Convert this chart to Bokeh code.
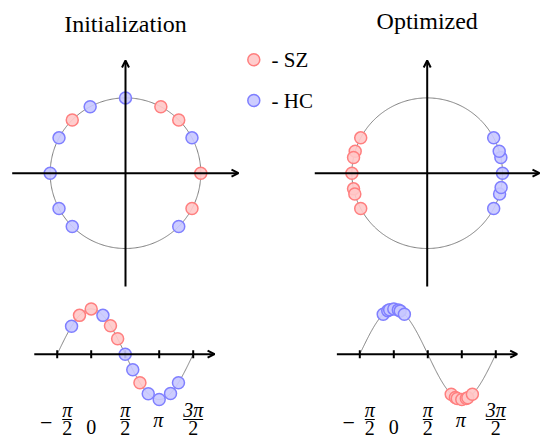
import numpy as np
from bokeh.plotting import figure
from bokeh.layouts import column, row
from bokeh.models import Range1d, Arrow, OpenHead, Spacer
from bokeh.core.properties import value
from bokeh.embed import file_html
from bokeh.resources import INLINE

# ---------------- data (angles / phases in degrees) ----------------
init_sz_circle_deg = [0, 45, 62, 135, 332]
init_hc_circle_deg = [28, 90, 118, 152, 180, 208, 225, 315]
init_sz_wave_deg = [-31, 0, 51, 70, 129]
init_hc_wave_deg = [-52, 31, 90, 110, 151, 180, 210, 231]
opt_sz_deg = [152, 163, 168, 180, 192, 196, 208]
opt_hc_deg = [-28, -16, -11, 0, 12, 17, 28]
tick_values = [-np.pi / 2, 0, np.pi / 2, np.pi, 3 * np.pi / 2]
titles = ["Initialization", "Optimized"]
legend_labels = ["- SZ", "- HC"]

SZ_FILL, SZ_LINE = "#ffc8c8", "#ff7f7f"
HC_FILL, HC_LINE = "#c8c8ff", "#7f7fff"
SERIF = value("Liberation Serif")

# ---------------- layout constants (pixels) ----------------
R_PX = 75.3              # circle radius
PX_X = 34 / (np.pi / 2)  # wave: pixels per radian
PX_Y = 45.3              # wave: pixels per unit amplitude
TOP_H = 291
BOT_H = 147
LEFT_W = 240
MID_W = 74
RIGHT_W = 226
CY = 172.7               # circle centre from top
SHIFT = 7                # text baseline correction


def base_fig(w, h, xr, yr):
    p = figure(width=w, height=h, x_range=Range1d(*xr), y_range=Range1d(*yr),
               output_backend="svg", toolbar_location=None, min_border=0,
               x_axis_location=None, y_axis_location=None, outline_line_color=None,
               background_fill_color="white", border_fill_color="white")
    p.grid.visible = False
    return p


def marks(p, x, y, fill, line):
    p.scatter(x, y, size=12, marker="circle", fill_color=fill, fill_alpha=0.9,
              line_color=line, line_alpha=1.0, line_width=1.5)


def arrow(p, xs, ys, xe, ye):
    p.add_layout(Arrow(end=OpenHead(size=7, line_width=2, line_color="black"),
                       x_start=xs, y_start=ys, x_end=xe, y_end=ye,
                       line_width=2, line_color="black"))


def circle_panel(w, h, cx_px, sz_deg, hc_deg, title, title_base_px, x_start_px, x_end_px):
    xr = (-cx_px / R_PX, (w - cx_px) / R_PX)
    yr = (-(h - CY) / R_PX, CY / R_PX)
    p = base_fig(w, h, xr, yr)
    t = np.linspace(0, 2 * np.pi, 400)
    p.line(np.cos(t), np.sin(t), line_color="#808080", line_width=1)
    arrow(p, (x_start_px - cx_px) / R_PX, 0, (x_end_px - cx_px) / R_PX, 0)
    arrow(p, 0, -1.505, 0, 1.497)
    s = np.radians(sz_deg)
    b = np.radians(hc_deg)
    marks(p, np.cos(b), np.sin(b), HC_FILL, HC_LINE)
    marks(p, np.cos(s), np.sin(s), SZ_FILL, SZ_LINE)
    p.text(x=[0], y=[(CY - (title_base_px - SHIFT)) / R_PX], text=[title], text_font=SERIF,
           text_font_size="24px", text_align="center", text_baseline="alphabetic",
           text_color="black")
    return p


def wave_panel(w, h, x0_px, y0_px, sz_deg, hc_deg):
    xr = (-x0_px / PX_X, (w - x0_px) / PX_X)
    yr = (-(h - y0_px) / PX_Y, y0_px / PX_Y)
    p = base_fig(w, h, xr, yr)
    t = np.linspace(-np.pi / 2, 3 * np.pi / 2, 300)
    p.line(t, np.cos(t), line_color="#808080", line_width=1)
    arrow(p, -2.63, 0, 5.70, 0)
    tk = 4 / PX_Y
    p.segment(x0=tick_values, y0=[-tk] * 5, x1=tick_values, y1=[tk] * 5,
              line_color="black", line_width=2)
    s = np.radians(sz_deg)
    b = np.radians(hc_deg)
    marks(p, b, np.cos(b), HC_FILL, HC_LINE)
    marks(p, s, np.cos(s), SZ_FILL, SZ_LINE)

    common = dict(text_font=SERIF, text_font_size="20px", text_align="center",
                  text_baseline="alphabetic", text_color="black")
    ital = dict(common, text_font_style="italic")
    m, z, h2, pi, h32 = tick_values
    num, den = 56, 74
    # -pi/2
    p.text(x=[m], y=[0], text=["\u2212"], x_offset=-11, y_offset=69,
           **dict(common, text_font_size="22px"))
    p.text(x=[m], y=[0], text=["\u03c0"], x_offset=10, y_offset=num, **ital)
    p.text(x=[m], y=[0], text=["2"], x_offset=10, y_offset=den, **common)
    # 0
    p.text(x=[z], y=[0], text=["0"], y_offset=73, **common)
    # pi/2
    p.text(x=[h2], y=[0], text=["\u03c0"], y_offset=num, **ital)
    p.text(x=[h2], y=[0], text=["2"], y_offset=den, **common)
    # pi
    p.text(x=[pi], y=[0], text=["\u03c0"], x_offset=-1, y_offset=66, **ital)
    # 3pi/2
    p.text(x=[h32], y=[0], text=["3\u03c0"], y_offset=num, **ital)
    p.text(x=[h32], y=[0], text=["2"], y_offset=den, **common)
    # fraction bars
    bar_y = -65.3 / PX_Y
    fx = [m + 10 / PX_X, h2, h32]
    half = [5 / PX_X, 5 / PX_X, 10 / PX_X]
    p.segment(x0=[a - d for a, d in zip(fx, half)], y0=[bar_y] * 3,
              x1=[a + d for a, d in zip(fx, half)], y1=[bar_y] * 3,
              line_color="black", line_width=1)
    return p


# ---------------- panels ----------------
c_init = circle_panel(LEFT_W, TOP_H, 125, init_sz_circle_deg, init_hc_circle_deg,
                      titles[0], 30, 11.7, 238)
c_opt = circle_panel(RIGHT_W, TOP_H, 112.7, opt_sz_deg, opt_hc_deg,
                     titles[1], 27.5, 0, 225)

leg = base_fig(MID_W, TOP_H, (240, 314), (291, 0))
marks(leg, [253.3], [59.3], SZ_FILL, SZ_LINE)
marks(leg, [253.3], [100], HC_FILL, HC_LINE)
leg.text(x=[271, 271], y=[66.7 - SHIFT, 107 - SHIFT], text=legend_labels, text_font=SERIF,
         text_font_size="21px", text_align="left", text_baseline="alphabetic",
         text_color="black")

w_init = wave_panel(LEFT_W, BOT_H, 90.7, 62.7, init_sz_wave_deg, init_hc_wave_deg)
w_opt = wave_panel(RIGHT_W, BOT_H, 79.3, 62.7, opt_sz_deg, opt_hc_deg)

layout = column(row(c_init, leg, c_opt), row(w_init, Spacer(width=MID_W, height=BOT_H), w_opt))

open("out.html", "w").write(file_html(layout, INLINE))
